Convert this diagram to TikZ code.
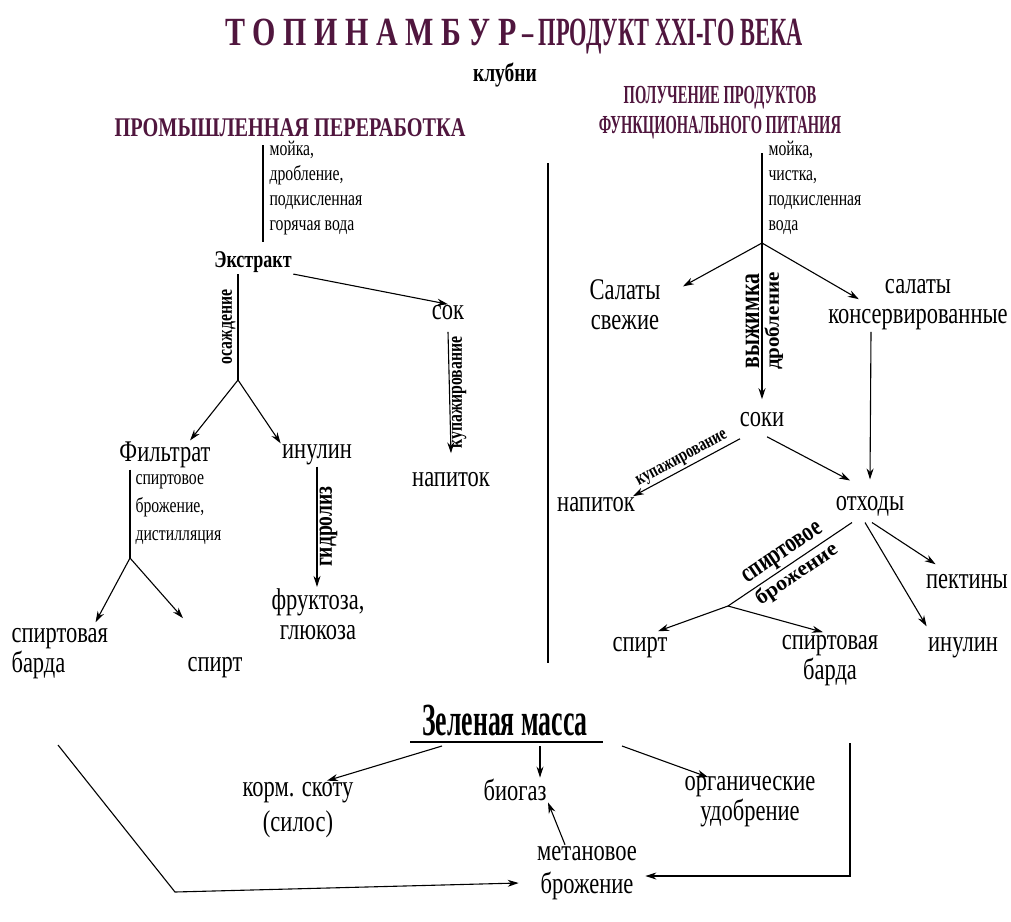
\documentclass[tikz,border=0pt]{standalone}
\usepackage{fontspec}
\setmainfont{Liberation Serif}[FakeStretch=0.75]
\newfontfamily\condfont{Liberation Serif}[FakeStretch=0.56]
\newfontfamily\widefont{Liberation Serif}[FakeStretch=1.05]
\usetikzlibrary{arrows.meta}
\definecolor{headcol}{RGB}{80,22,62}
\newcommand\lsp{\kern7.5pt}

\begin{document}
\begin{tikzpicture}[x=1pt,y=-1pt,line width=1.1pt,
		arr/.style={-{Stealth[length=11pt,width=7pt]}},
		txt/.style={inner sep=1pt,align=center,font=\fontsize{30}{30}\selectfont},
		sm/.style={inner sep=1pt,align=left,font=\fontsize{21}{25}\selectfont},
		rot/.style={inner sep=2pt,font=\bfseries\fontsize{21}{21}\selectfont}]
	\useasboundingbox (0,0) rectangle (1011,921);
	\node[font=\condfont\bfseries\fontsize{40}{40}\selectfont,text=headcol] (title) at (514,37) {{\rmfamily Т\lsp О\lsp П\lsp И\lsp Н\lsp А\lsp М\lsp Б\lsp У\lsp Р} – ПРОДУКТ XXI-ГО ВЕКА};
	\node[font=\bfseries\fontsize{26}{26}\selectfont] (tubers) at (505,75) {клубни};
	\node[font=\bfseries\fontsize{27}{27}\selectfont,text=headcol] (headL) at (290,128) {ПРОМЫШЛЕННАЯ ПЕРЕРАБОТКА};
	\node[align=center,font=\condfont\bfseries\fontsize{26}{30}\selectfont,text=headcol] (headR) at (720,113) {ПОЛУЧЕНИЕ ПРОДУКТОВ\\ФУНКЦИОНАЛЬНОГО ПИТАНИЯ};

	\coordinate (lt) at (263,145);
	\coordinate (lb) at (263,242);
	\draw (lt) -- (lb);
	\node[sm,anchor=north west] (wash1) at (268,140) {мойка,\\дробление,\\подкисленная\\горячая вода};
	\node[inner sep=1pt,font=\bfseries\fontsize{24}{24}\selectfont] (extr) at (253,262) {Экстракт};
	\node[txt] (sok) at (448,313) {сок};
	\draw[arr] (extr.south east) -- (sok.north);
	\coordinate (f1) at (238,380);
	\draw (extr.south -| f1) -- node[rot,rotate=90,anchor=south] {осаждение} (f1);
	\node[txt] (filt) at (165,455) {Фильтрат};
	\node[txt] (inul) at (317,455) {инулин};
	\draw[arr] (f1) -- ([xshift=-22pt]filt.north east);
	\draw[arr] (f1) -- (inul.north west);
	\coordinate (f2) at (130,558);
	\draw (filt.south west -| f2) -- (f2);
	\node[sm,anchor=north west,font=\fontsize{21}{28}\selectfont] (ferm1) at (134,473) {спиртовое\\брожение,\\дистилляция};
	\node[txt,align=left,anchor=west] (bardL) at (10,654) {спиртовая\\барда};
	\node[txt] (spirtL) at (215,668) {спирт};
	\draw[arr] (f2) -- ([xshift=-14pt,yshift=5pt]bardL.north east);
	\draw[arr] (f2) -- ([shift={(-3pt,38pt)}]spirtL.north west);
	\node[txt] (fruk) at (318,614) {фруктоза,\\глюкоза};
	\draw[arr] (inul.south) -- node[rot,rotate=90,anchor=north,font=\bfseries\fontsize{26}{26}\selectfont] {гидролиз} (inul.south |- fruk.north);
	\node[txt] (napL) at (451,480) {напиток};
	\draw[arr] ([yshift=-10pt]sok.south) -- node[rot,rotate=90,anchor=north] {купажирование} ([yshift=18pt]napL.north);

	\draw (548,163) -- (548,663);

	\coordinate (rt) at (762,153);
	\coordinate (f3) at (762,243);
	\draw (rt) -- (f3);
	\node[sm,anchor=north west] (wash2) at (767,140) {мойка,\\чистка,\\подкисленная\\вода};
	\node[txt] (salS) at (625,305) {Салаты\\свежие};
	\node[txt] (salK) at (918,305) {салаты\\консервированные};
	\node[txt] (soki) at (762,420) {соки};
	\draw[arr] (f3) -- ([shift={(21pt,-8pt)}]salS.north east);
	\draw[arr] (f3) -- ([shift={(32pt,-21pt)}]salK.north west);
	\draw[arr] (f3) -- node[rot,rotate=90,anchor=south,font=\bfseries\fontsize{29}{29}\selectfont] {выжимка} node[rot,rotate=90,anchor=north,font=\widefont\bfseries\fontsize{20}{20}\selectfont] {дробление} ([yshift=12pt]soki.north);
	\node[txt] (napR) at (596,505) {напиток};
	\node[txt] (otk) at (870,506) {отходы};
	\draw[arr] ([xshift=-47pt]salK.south) -- ([yshift=15pt]otk.north);
	\draw[arr] ([shift={(-22pt,-10pt)}]soki.south) -- node[rot,sloped,above,font=\bfseries\fontsize{19}{19}\selectfont] {купажирование} ([xshift=37pt]napR.north);
	\draw[arr] ([shift={(5pt,-8pt)}]soki.south) -- ([shift={(-20pt,14pt)}]otk.north);
	\coordinate (f4) at (728,606);
	\draw ([shift={(-18pt,-5pt)}]otk.south) -- node[rot,sloped,above,font=\bfseries\fontsize{27}{27}\selectfont] {спиртовое} node[rot,sloped,below,font=\widefont\bfseries\fontsize{21}{21}\selectfont] {брожение} (f4);
	\node[txt] (spirtR) at (640,648) {спирт};
	\node[txt] (bardR) at (830,661) {спиртовая\\барда};
	\draw[arr] (f4) -- ([shift={(18pt,5pt)}]spirtR.north);
	\draw[arr] (f4) -- ([shift={(-7pt,2pt)}]bardR.north);
	\node[txt] (pekt) at (967,582) {пектины};
	\node[txt] (inulR) at (963,648) {инулин};
	\draw[arr] ([shift={(2pt,-5pt)}]otk.south) -- ([shift={(11pt,9pt)}]pekt.north west);
	\draw[arr] ([shift={(-5pt,-5pt)}]otk.south) -- ([shift={(0pt,10pt)}]inulR.north west);

	\node[inner sep=2pt,font=\condfont\bfseries\fontsize{46}{46}\selectfont] (zel) at (505,720) {Зеленая масса};
	\coordinate (ul) at (410,742);
	\coordinate (ur) at (603,742);
	\draw (ul) -- (ur);
	\coordinate (u1) at (442,746);
	\coordinate (u2) at (540,746);
	\coordinate (u3) at (622,746);
	\node[txt,font=\fontsize{30}{35}\selectfont] (korm) at (298,810) {корм. скоту\\(силос)};
	\node[txt] (biog) at (515,790) {биогаз};
	\node[txt] (org) at (750,802) {органические\\удобрение};
	\node[txt,font=\fontsize{30}{33}\selectfont] (metan) at (587,873) {метановое\\брожение};
	\draw[arr] (u1) -- ([xshift=-28pt]korm.north east);
	\draw[arr] (u2) -- (u2 |- biog.north);
	\draw[arr] (u3) -- ([shift={(-42pt,-2pt)}]org.north);
	\draw[arr] ([xshift=-22pt]metan.north) -- ([xshift=33pt]biog.south);
	\coordinate (ls) at (58,745);
	\coordinate (lc) at (175,892);
	\draw[arr] (ls) -- (lc) -- ([shift={(-17pt,-10pt)}]metan.west);
	\coordinate (rs) at (850,743);
	\draw[arr] (rs) |- ([shift={(7pt,-3pt)}]metan.east);
\end{tikzpicture}
\end{document}
